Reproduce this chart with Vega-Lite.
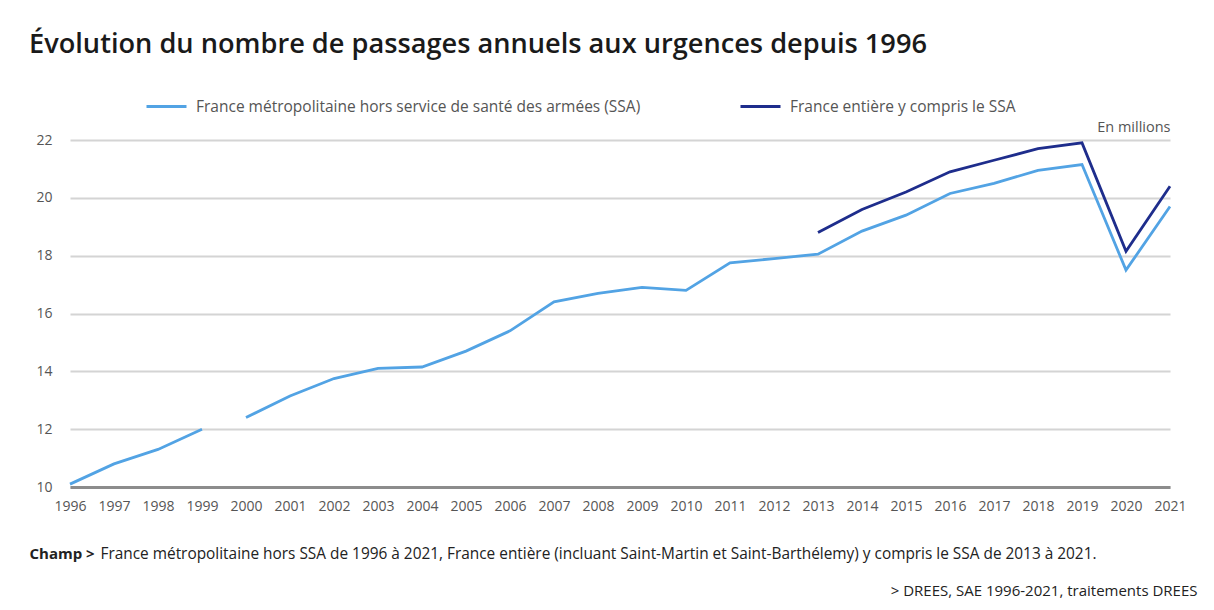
{
  "$schema": "https://vega.github.io/schema/vega-lite/v6.json",
  "width": 1100,
  "height": 347,
  "autosize": "none",
  "padding": {"left": 70, "top": 140, "right": 44, "bottom": 123},
  "background": "white",
  "title": {
    "text": "Évolution du nombre de passages annuels aux urgences depuis 1996",
    "anchor": "start",
    "frame": "group",
    "dx": -41,
    "dy": -22,
    "fontSize": 27.2,
    "font": "Open Sans",
    "fontWeight": 600,
    "color": "#1a1a1a"
  },
  "data": {
    "values": [
      {"year": 1996, "value": 10.1, "series": "France métropolitaine hors service de santé des armées (SSA)", "seg": "a"},
      {"year": 1997, "value": 10.8, "series": "France métropolitaine hors service de santé des armées (SSA)", "seg": "a"},
      {"year": 1998, "value": 11.3, "series": "France métropolitaine hors service de santé des armées (SSA)", "seg": "a"},
      {"year": 1999, "value": 12.0, "series": "France métropolitaine hors service de santé des armées (SSA)", "seg": "a"},
      {"year": 2000, "value": 12.4, "series": "France métropolitaine hors service de santé des armées (SSA)", "seg": "b"},
      {"year": 2001, "value": 13.15, "series": "France métropolitaine hors service de santé des armées (SSA)", "seg": "b"},
      {"year": 2002, "value": 13.75, "series": "France métropolitaine hors service de santé des armées (SSA)", "seg": "b"},
      {"year": 2003, "value": 14.1, "series": "France métropolitaine hors service de santé des armées (SSA)", "seg": "b"},
      {"year": 2004, "value": 14.15, "series": "France métropolitaine hors service de santé des armées (SSA)", "seg": "b"},
      {"year": 2005, "value": 14.7, "series": "France métropolitaine hors service de santé des armées (SSA)", "seg": "b"},
      {"year": 2006, "value": 15.4, "series": "France métropolitaine hors service de santé des armées (SSA)", "seg": "b"},
      {"year": 2007, "value": 16.4, "series": "France métropolitaine hors service de santé des armées (SSA)", "seg": "b"},
      {"year": 2008, "value": 16.7, "series": "France métropolitaine hors service de santé des armées (SSA)", "seg": "b"},
      {"year": 2009, "value": 16.9, "series": "France métropolitaine hors service de santé des armées (SSA)", "seg": "b"},
      {"year": 2010, "value": 16.8, "series": "France métropolitaine hors service de santé des armées (SSA)", "seg": "b"},
      {"year": 2011, "value": 17.75, "series": "France métropolitaine hors service de santé des armées (SSA)", "seg": "b"},
      {"year": 2012, "value": 17.9, "series": "France métropolitaine hors service de santé des armées (SSA)", "seg": "b"},
      {"year": 2013, "value": 18.05, "series": "France métropolitaine hors service de santé des armées (SSA)", "seg": "b"},
      {"year": 2014, "value": 18.85, "series": "France métropolitaine hors service de santé des armées (SSA)", "seg": "b"},
      {"year": 2015, "value": 19.4, "series": "France métropolitaine hors service de santé des armées (SSA)", "seg": "b"},
      {"year": 2016, "value": 20.15, "series": "France métropolitaine hors service de santé des armées (SSA)", "seg": "b"},
      {"year": 2017, "value": 20.5, "series": "France métropolitaine hors service de santé des armées (SSA)", "seg": "b"},
      {"year": 2018, "value": 20.95, "series": "France métropolitaine hors service de santé des armées (SSA)", "seg": "b"},
      {"year": 2019, "value": 21.15, "series": "France métropolitaine hors service de santé des armées (SSA)", "seg": "b"},
      {"year": 2020, "value": 17.5, "series": "France métropolitaine hors service de santé des armées (SSA)", "seg": "b"},
      {"year": 2021, "value": 19.7, "series": "France métropolitaine hors service de santé des armées (SSA)", "seg": "b"},
      {"year": 2013, "value": 18.8, "series": "France entière y compris le SSA", "seg": "c"},
      {"year": 2014, "value": 19.6, "series": "France entière y compris le SSA", "seg": "c"},
      {"year": 2015, "value": 20.2, "series": "France entière y compris le SSA", "seg": "c"},
      {"year": 2016, "value": 20.9, "series": "France entière y compris le SSA", "seg": "c"},
      {"year": 2017, "value": 21.3, "series": "France entière y compris le SSA", "seg": "c"},
      {"year": 2018, "value": 21.7, "series": "France entière y compris le SSA", "seg": "c"},
      {"year": 2019, "value": 21.9, "series": "France entière y compris le SSA", "seg": "c"},
      {"year": 2020, "value": 18.15, "series": "France entière y compris le SSA", "seg": "c"},
      {"year": 2021, "value": 20.4, "series": "France entière y compris le SSA", "seg": "c"}
    ]
  },
  "layer": [
    {
      "transform": [{"filter": "datum.seg !== 'c'"}],
      "mark": {"type": "line", "strokeWidth": 2.8},
      "encoding": {
        "x": {
          "field": "year",
          "type": "quantitative",
          "scale": {"domain": [1996, 2021], "nice": false, "zero": false},
          "axis": {
            "orient": "bottom",
            "values": [1996, 1997, 1998, 1999, 2000, 2001, 2002, 2003, 2004, 2005, 2006, 2007, 2008, 2009, 2010, 2011, 2012, 2013, 2014, 2015, 2016, 2017, 2018, 2019, 2020, 2021],
            "format": "d",
            "grid": false,
            "ticks": false,
            "domainColor": "#8c8c8c",
            "domainWidth": 3,
            "labelPadding": 12,
            "labelFontSize": 14,
            "labelColor": "#555555",
            "labelFont": "Open Sans",
            "labelOverlap": false,
            "labelFlush": false,
            "title": "France métropolitaine hors SSA de 1996 à 2021, France entière (incluant Saint-Martin et Saint-Barthélemy) y compris le SSA de 2013 à 2021.",
            "titleX": 30,
            "titleY": 71,
            "titleAlign": "left",
            "titleBaseline": "alphabetic",
            "titleFont": "Open Sans",
            "titleFontWeight": "normal",
            "titleFontSize": 15.4,
            "titleColor": "#222222",
            "titleLimit": 0
          }
        },
        "y": {
          "field": "value",
          "type": "quantitative",
          "scale": {"domain": [10, 22], "nice": false, "zero": false},
          "axis": {
            "values": [10, 12, 14, 16, 18, 20, 22],
            "grid": true,
            "gridColor": "#d4d4d4",
            "gridWidth": 2,
            "domain": false,
            "ticks": false,
            "labelPadding": 18,
            "labelFontSize": 14,
            "labelColor": "#555555",
            "labelFont": "Open Sans",
            "title": "En millions",
            "titleAngle": 0,
            "titleX": 1100,
            "titleY": -9,
            "titleAlign": "right",
            "titleBaseline": "alphabetic",
            "titleFont": "Open Sans",
            "titleFontWeight": "normal",
            "titleFontSize": 14.5,
            "titleColor": "#555555"
          }
        },
        "color": {
          "field": "series",
          "type": "nominal",
          "scale": {
            "domain": ["France métropolitaine hors service de santé des armées (SSA)", "France entière y compris le SSA"],
            "range": ["#52a3e4", "#1e2d8c"]
          },
          "legend": {
            "orient": "none",
            "legendX": 75,
            "legendY": -55,
            "direction": "horizontal",
            "title": null,
            "symbolType": "stroke",
            "symbolSize": 1600,
            "symbolStrokeWidth": 3,
            "labelFontSize": 15.5,
            "labelColor": "#555555",
            "labelFont": "Open Sans",
            "labelLimit": 0,
            "labelOffset": 8,
            "columnPadding": 93
          }
        },
        "detail": {"field": "seg", "type": "nominal"}
      }
    },
    {
      "transform": [{"filter": "datum.seg === 'c'"}],
      "mark": {"type": "line", "strokeWidth": 2.8},
      "encoding": {
        "x": {
          "field": "year",
          "type": "quantitative",
          "axis": {
            "orient": "bottom",
            "labels": false,
            "ticks": false,
            "domain": false,
            "grid": false,
            "title": "Champ >",
            "titleX": -41,
            "titleY": 71,
            "titleAlign": "left",
            "titleBaseline": "alphabetic",
            "titleFont": "Open Sans",
            "titleFontWeight": "bold",
            "titleFontSize": 15,
            "titleColor": "#222222"
          }
        },
        "y": {
          "field": "value",
          "type": "quantitative",
          "axis": {
            "orient": "right",
            "labels": false,
            "ticks": false,
            "domain": false,
            "grid": false,
            "title": "> DREES, SAE 1996-2021, traitements DREES",
            "titleAngle": 0,
            "titleX": 27,
            "titleY": 455,
            "titleAlign": "right",
            "titleBaseline": "alphabetic",
            "titleFont": "Open Sans",
            "titleFontWeight": "normal",
            "titleFontSize": 15,
            "titleColor": "#222222",
            "titleLimit": 0
          }
        },
        "color": {"field": "series", "type": "nominal"},
        "detail": {"field": "seg", "type": "nominal"}
      }
    }
  ],
  "resolve": {"axis": {"x": "independent", "y": "independent"}},
  "config": {
    "view": {"stroke": null},
    "font": "Open Sans"
  }
}
